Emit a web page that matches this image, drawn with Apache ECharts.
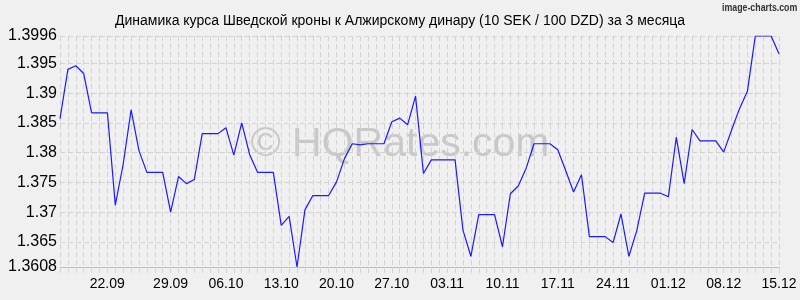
<!DOCTYPE html>
<html>
<head>
<meta charset="utf-8">
<script src="https://cdn.jsdelivr.net/npm/echarts@6/dist/echarts.min.js"></script>
<style>
html,body{margin:0;padding:0;background:#f0f0f0;}
#chart{width:800px;height:300px;}
</style>
</head>
<body>
<div id="chart"></div>
<script>
const titleText = 'Динамика курса Шведской кроны к Алжирскому динару (10 SEK / 100 DZD) за 3 месяца';
const watermarkText = '© HQRates.com';
const creditText = 'image-charts.com';

const categories = [
  '15.09','16.09','17.09','18.09','19.09','20.09','21.09',
  '22.09','23.09','24.09','25.09','26.09','27.09','28.09',
  '29.09','30.09','01.10','02.10','03.10','04.10','05.10',
  '06.10','07.10','08.10','09.10','10.10','11.10','12.10',
  '13.10','14.10','15.10','16.10','17.10','18.10','19.10',
  '20.10','21.10','22.10','23.10','24.10','25.10','26.10',
  '27.10','28.10','29.10','30.10','31.10','01.11','02.11',
  '03.11','04.11','05.11','06.11','07.11','08.11','09.11',
  '10.11','11.11','12.11','13.11','14.11','15.11','16.11',
  '17.11','18.11','19.11','20.11','21.11','22.11','23.11',
  '24.11','25.11','26.11','27.11','28.11','29.11','30.11',
  '01.12','02.12','03.12','04.12','05.12','06.12','07.12',
  '08.12','09.12','10.12','11.12','12.12','13.12','14.12',
  '15.12'
];

const rates = [
  1.3857, 1.3940, 1.3946, 1.3933, 1.3867, 1.3867, 1.3867,
  1.3712, 1.3781, 1.3872, 1.3803, 1.3767, 1.3767, 1.3767,
  1.3700, 1.3760, 1.3748, 1.3755, 1.3832, 1.3832, 1.3832,
  1.3842, 1.3796, 1.3850, 1.3797, 1.3767, 1.3767, 1.3767,
  1.3678, 1.3693, 1.3608, 1.3704, 1.3728, 1.3728, 1.3728,
  1.3751, 1.3790, 1.3815, 1.3813, 1.3815, 1.3815, 1.3815,
  1.3852, 1.3858, 1.3847, 1.3895, 1.3765, 1.3788, 1.3788,
  1.3788, 1.3788, 1.3670, 1.3626, 1.3696, 1.3696, 1.3696,
  1.3642, 1.3731, 1.3744, 1.3774, 1.3815, 1.3815, 1.3815,
  1.3805, 1.3770, 1.3734, 1.3763, 1.3659, 1.3659, 1.3659,
  1.3649, 1.3697, 1.3626, 1.3669, 1.3732, 1.3732, 1.3732,
  1.3726, 1.3826, 1.3748, 1.3839, 1.3820, 1.3820, 1.3820,
  1.3801, 1.3838, 1.3874, 1.3903, 1.3996, 1.3996, 1.3996,
  1.3966
];

const yTicks = [1.3608, 1.365, 1.37, 1.375, 1.38, 1.385, 1.39, 1.395, 1.3996];
const xLabelDates = ['22.09','29.09','06.10','13.10','20.10','27.10','03.11','10.11','17.11','24.11','01.12','08.12','15.12'];

const chart = echarts.init(document.getElementById('chart'), null, {renderer: 'canvas'});
const gridColor = '#d2d2d2';
const font = '"Liberation Sans", Arial, sans-serif';

chart.setOption({
  animation: false,
  backgroundColor: '#f0f0f0',
  title: {
    text: titleText,
    left: 'center',
    top: 9,
    textStyle: {fontSize: 14, fontWeight: 'normal', color: '#000', fontFamily: font}
  },
  graphic: [
    {
      type: 'text', left: 'center', top: 124, z: 0, silent: true,
      style: {text: watermarkText, fontSize: 41, fontFamily: font, fill: 'rgba(150,150,150,0.45)'}
    },
    {
      type: 'text', x: 722, y: 2, scaleX: 0.8, z: 10, silent: true,
      style: {text: creditText, fontSize: 11, fontWeight: 'bold', fontFamily: font, fill: '#333'}
    }
  ],
  grid: {left: 60, right: 21, top: 36, bottom: 33, containLabel: false},
  xAxis: {
    type: 'category',
    data: categories,
    boundaryGap: false,
    axisLine: {show: true, lineStyle: {color: '#bdbdbd', width: 1}},
    axisTick: {show: true, interval: 0, length: 6, lineStyle: {color: gridColor}},
    splitLine: {show: true, interval: 0, lineStyle: {color: gridColor, type: [5, 3], width: 1}},
    axisLabel: {
      interval: function (idx, val) { return xLabelDates.indexOf(val) >= 0; },
      margin: 10,
      fontSize: 14,
      fontFamily: font,
      color: '#000',
      formatter: function (val) { return val === xLabelDates[0] ? '{s|' + val + '}' : val; },
      rich: {s: {fontSize: 14, fontFamily: font, color: '#000', padding: [0, 16, 0, 0]}}
    }
  },
  yAxis: {
    type: 'value',
    min: yTicks[0],
    max: yTicks[yTicks.length - 1],
    axisLine: {show: false},
    axisTick: {show: false, customValues: yTicks},
    splitLine: {show: true, lineStyle: {color: gridColor, type: [5, 3], width: 1}},
    axisLabel: {
      customValues: yTicks,
      margin: 3,
      fontSize: 16,
      fontFamily: font,
      color: '#000',
      formatter: function (v) { return String(v); }
    }
  },
  series: [{
    type: 'line',
    data: rates,
    showSymbol: false,
    symbol: 'none',
    z: 5,
    lineStyle: {color: '#1a1aff', width: 1.2}
  }]
});
</script>
</body>
</html>
